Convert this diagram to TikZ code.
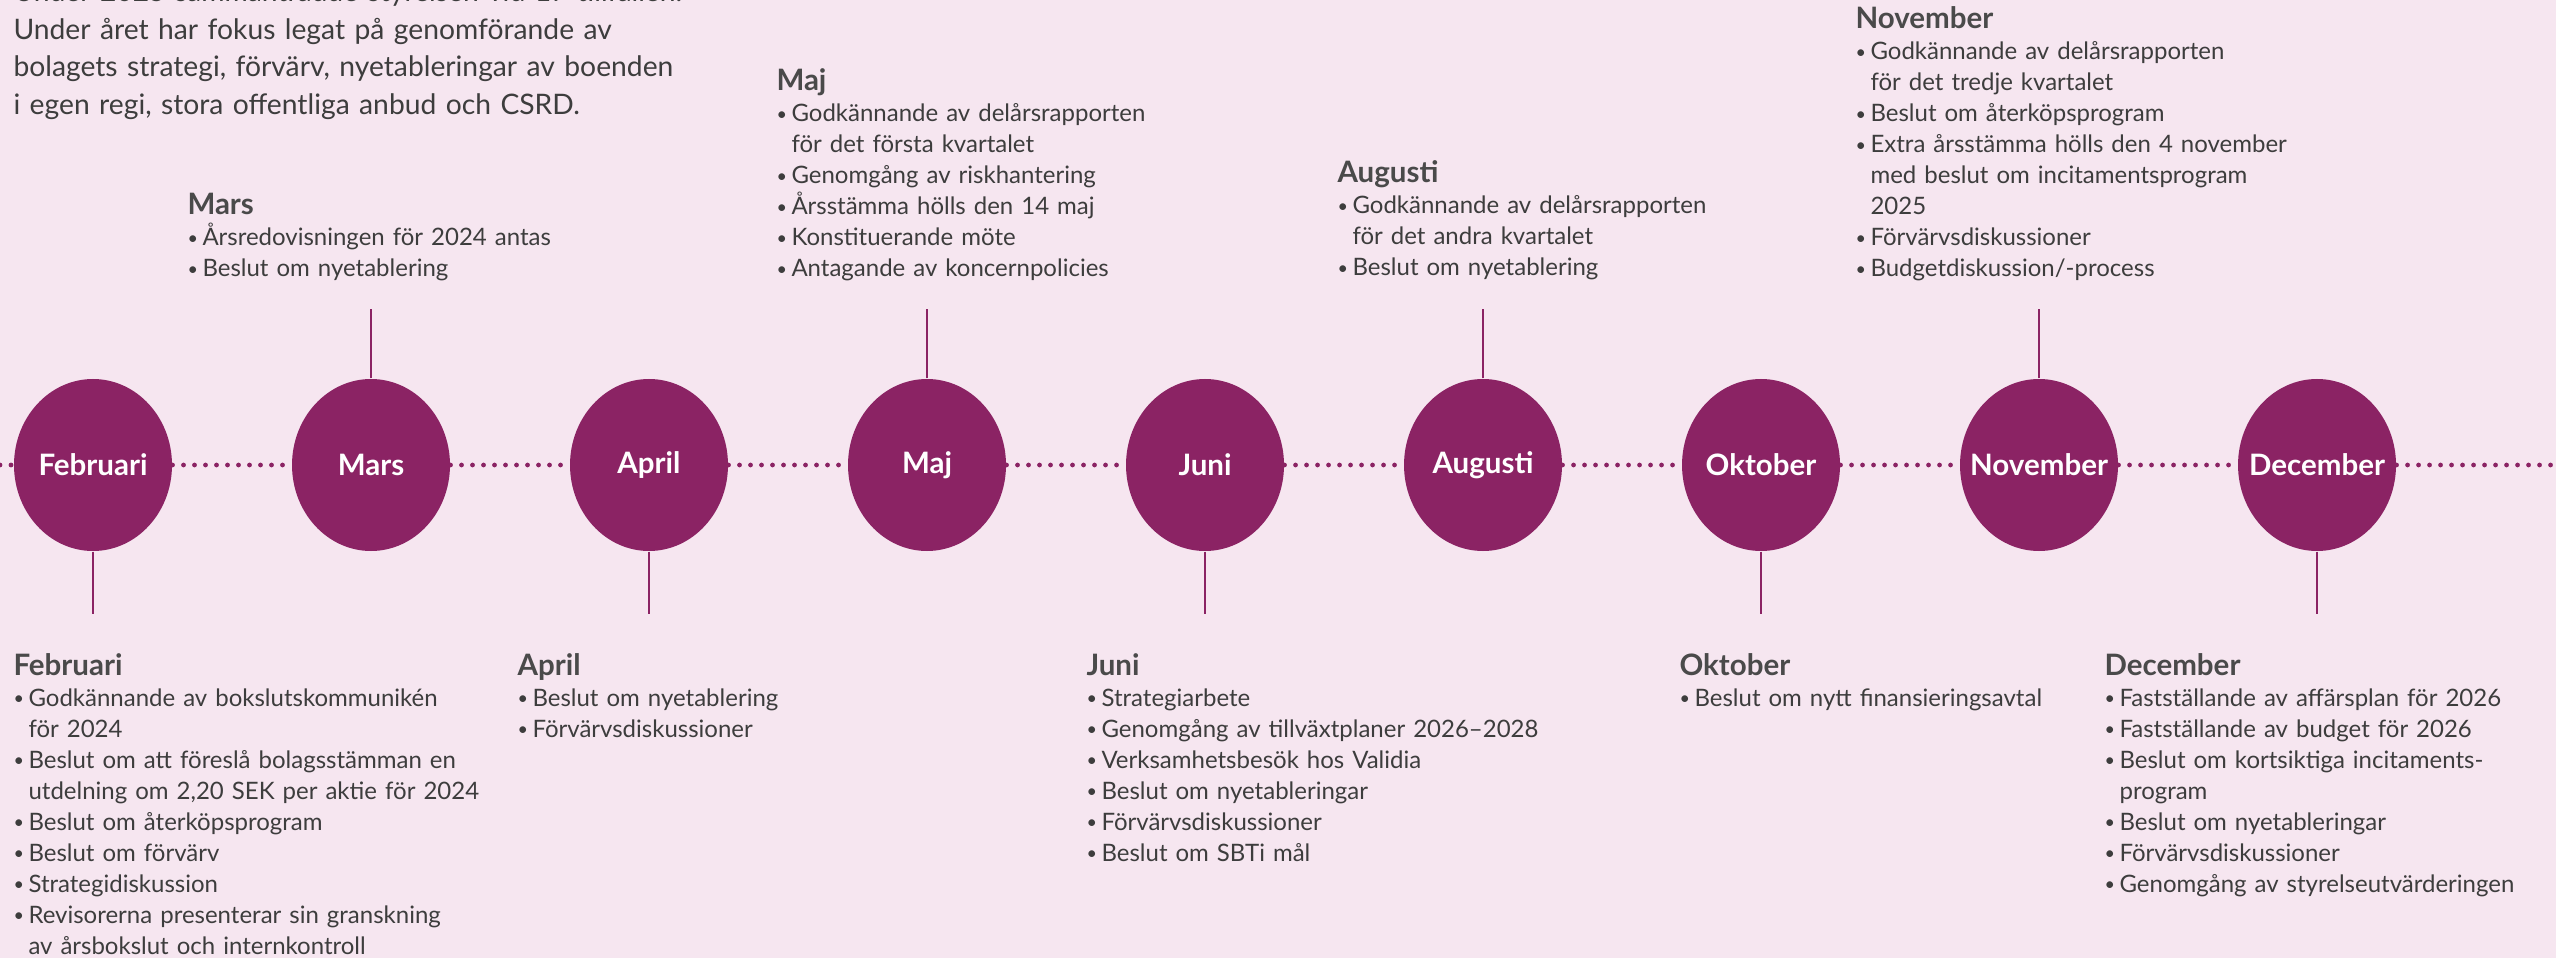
\documentclass[tikz,border=0pt]{standalone}
\usepackage{fontspec}
\usepackage{graphicx}
\setmainfont{Lato}
\usetikzlibrary{shapes.geometric}
\definecolor{bgpink}{HTML}{F6E6F0}
\definecolor{plum}{HTML}{8B2364}
\definecolor{ink}{HTML}{3D3D3D}
\definecolor{headink}{HTML}{4A4A4A}
\newcommand{\mhead}[1]{{\fontsize{11.8}{12.4}\selectfont\bfseries\color{headink}#1}}
\newcommand{\evt}[1]{\par\makebox[6pt][l]{\raisebox{0.12ex}{\scalebox{0.75}{\textbullet}}}#1}
\newcommand{\evtc}[1]{\par\hspace*{6pt}#1}
\tikzset{
  month/.style={ellipse, fill=plum, minimum width=63.2pt, minimum height=68.8pt,
    inner sep=0pt, text=white, font=\bfseries\fontsize{11.8}{12}\selectfont},
  stem/.style={draw=plum, line width=0.6pt},
  dotline/.style={draw=plum, line width=1.9pt, line cap=round, dash pattern=on 0pt off 4.4pt},
  notes/.style={anchor=base west, inner sep=0pt, align=left, text width=260pt,
    text=ink, font=\fontsize{9.6}{12.4}\selectfont},
}
\begin{document}
\begin{tikzpicture}[x=0.4pt, y=-0.4pt]
\useasboundingbox[fill=bgpink] (0,0) rectangle (2556,958);
% intro text, first line runs off the top
\node[notes, text width=400pt, font=\fontsize{11.3}{15}\selectfont] (intro) at (13,2)
  {Under 2025 sammanträdde styrelsen vid 17 tillfällen.\par
   Under året har fokus legat på genomförande av\par
   bolagets strategi, förvärv, nyetableringar av boenden\par
   i egen regi, stora offentliga anbud och CSRD.};
% the months
\foreach \nm/\lbl [count=\i from 0] in {feb/Februari, mar/Mars, apr/April, maj/Maj,
    jun/Juni, aug/Augusti, okt/Oktober, nov/November, dec/December}
  \node[month] (\nm) at (93+278*\i, 465) {\makebox[0pt]{\lbl}};
\coordinate (lft) at (0,465);
\coordinate (rgt) at (2556,465);
\foreach \a/\b in {lft/feb, feb/mar, mar/apr, apr/maj, maj/jun, jun/aug, aug/okt,
    okt/nov, nov/dec, dec/rgt}
  \draw[dotline] (\a) -- (\b);
% stems up and down
\foreach \nm in {mar, maj, aug, nov}
  \draw[stem] (\nm.north) -- ++(0,-69);
\foreach \nm in {feb, apr, jun, okt, dec}
  \draw[stem] (\nm.south) -- ++(0,62);
% notes above the line
\node[notes] (martxt) at (187,215) {\mhead{Mars}
  \evt{Årsredovisningen för 2024 antas}
  \evt{Beslut om nyetablering}};
\node[notes] (majtxt) at (776,91) {\mhead{Maj}
  \evt{Godkännande av delårsrapporten}
  \evtc{för det första kvartalet}
  \evt{Genomgång av riskhantering}
  \evt{Årsstämma hölls den 14 maj}
  \evt{Konstituerande möte}
  \evt{Antagande av koncernpolicies}};
\node[notes] (augtxt) at (1337,183) {\mhead{Augusti}
  \evt{Godkännande av delårsrapporten}
  \evtc{för det andra kvartalet}
  \evt{Beslut om nyetablering}};
\node[notes] (novtxt) at (1855,29) {\mhead{November}
  \evt{Godkännande av delårsrapporten}
  \evtc{för det tredje kvartalet}
  \evt{Beslut om återköpsprogram}
  \evt{Extra årsstämma hölls den 4 november}
  \evtc{med beslut om incitamentsprogram}
  \evtc{2025}
  \evt{Förvärvsdiskussioner}
  \evt{Budgetdiskussion/-process}};
% notes below the line
\node[notes] (febtxt) at (13,675) {\mhead{Februari}
  \evt{Godkännande av bokslutskommunikén}
  \evtc{för 2024}
  \evt{Beslut om att föreslå bolagsstämman en}
  \evtc{utdelning om 2,20 SEK per aktie för 2024}
  \evt{Beslut om återköpsprogram}
  \evt{Beslut om förvärv}
  \evt{Strategidiskussion}
  \evt{Revisorerna presenterar sin granskning}
  \evtc{av årsbokslut och internkontroll}};
\node[notes] (aprtxt) at (517,675) {\mhead{April}
  \evt{Beslut om nyetablering}
  \evt{Förvärvsdiskussioner}};
\node[notes] (juntxt) at (1086,675) {\mhead{Juni}
  \evt{Strategiarbete}
  \evt{Genomgång av tillväxtplaner 2026–2028}
  \evt{Verksamhetsbesök hos Validia}
  \evt{Beslut om nyetableringar}
  \evt{Förvärvsdiskussioner}
  \evt{Beslut om SBTi mål}};
\node[notes] (okttxt) at (1679,675) {\mhead{Oktober}
  \evt{Beslut om nytt finansieringsavtal}};
\node[notes] (dectxt) at (2104,675) {\mhead{December}
  \evt{Fastställande av affärsplan för 2026}
  \evt{Fastställande av budget för 2026}
  \evt{Beslut om kortsiktiga incitaments-}
  \evtc{program}
  \evt{Beslut om nyetableringar}
  \evt{Förvärvsdiskussioner}
  \evt{Genomgång av styrelseutvärderingen}};
\end{tikzpicture}
\end{document}
